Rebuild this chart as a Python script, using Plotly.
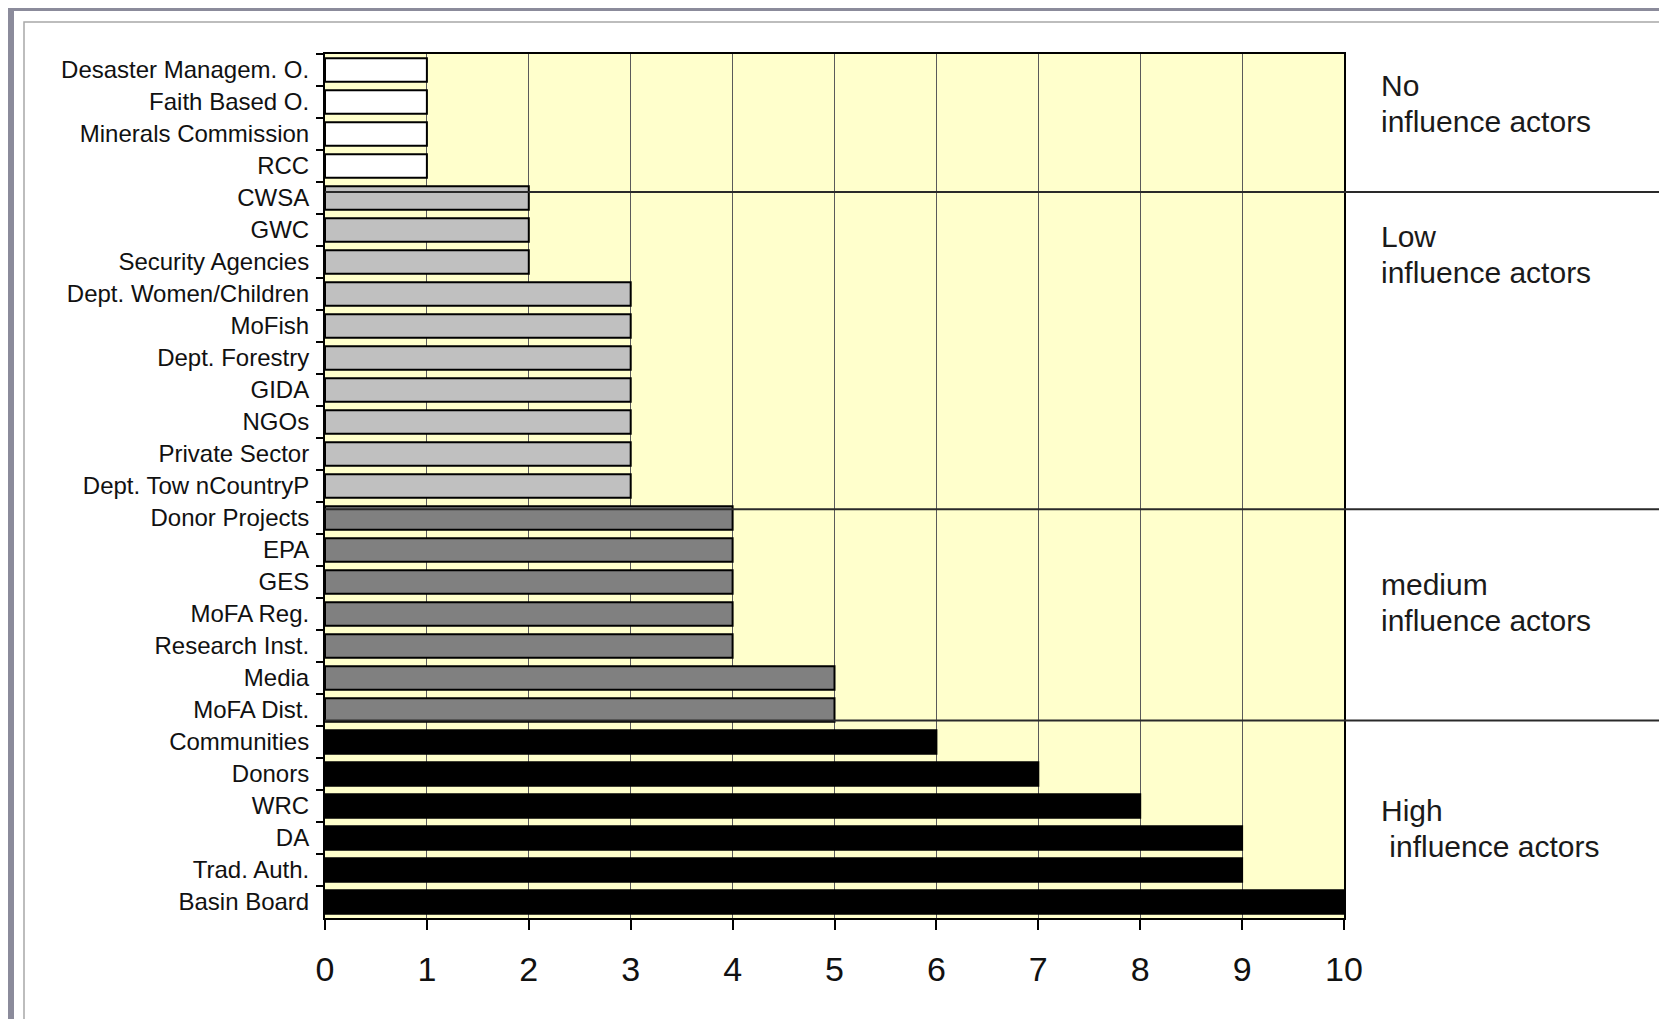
import plotly.graph_objects as go

actors = ["Desaster Managem. O.", "Faith Based O.", "Minerals Commission", "RCC",
          "CWSA", "GWC", "Security Agencies", "Dept. Women/Children", "MoFish",
          "Dept. Forestry", "GIDA", "NGOs", "Private Sector", "Dept. Tow nCountryP",
          "Donor Projects", "EPA", "GES", "MoFA Reg.", "Research Inst.", "Media",
          "MoFA Dist.", "Communities", "Donors", "WRC", "DA", "Trad. Auth.", "Basin Board"]
influence = [1, 1, 1, 1, 2, 2, 2, 3, 3, 3, 3, 3, 3, 3, 4, 4, 4, 4, 4, 5, 5, 6, 7, 8, 9, 9, 10]
groups = ["no"] * 4 + ["low"] * 10 + ["medium"] * 7 + ["high"] * 6
group_colors = {"no": "#ffffff", "low": "#c0c0c0", "medium": "#808080", "high": "#000000"}
group_titles = ["No", "Low", "medium", "High"]
group_subtitles = ["influence actors", "influence actors", "influence actors", " influence actors"]
x_ticks = list(range(0, 11))

W, H = 1667, 1019
L, R, T, B = 317, 1336, 46, 910


def px_x(p):
    return (p - L) / (R - L)


def px_y(p):
    return (B - p) / (B - T)


fig = go.Figure()
fig.add_trace(go.Bar(
    y=actors, x=influence, orientation="h",
    marker=dict(color=[group_colors[g] for g in groups],
                line=dict(color="#000000", width=2)),
    width=0.74, showlegend=False, hoverinfo="x+y",
))

shapes = []
# outer grey frame strips
shapes.append(dict(type="rect", xref="paper", yref="paper", x0=px_x(0), x1=px_x(6),
                   y0=px_y(H), y1=px_y(0), fillcolor="#8b8b9b", line_width=0, layer="below"))
shapes.append(dict(type="rect", xref="paper", yref="paper", x0=px_x(0), x1=px_x(W),
                   y0=px_y(3), y1=px_y(0), fillcolor="#8b8b9b", line_width=0, layer="below"))
# inner panel border
shapes.append(dict(type="rect", xref="paper", yref="paper", x0=px_x(16), x1=px_x(1653),
                   y0=px_y(1013), y1=px_y(14), line=dict(color="#a8a8a8", width=1.5),
                   fillcolor="rgba(0,0,0,0)", layer="below"))
# group separators (category index positions)
for yv in [3.81, 13.73, 20.33]:
    shapes.append(dict(type="line", xref="paper", yref="y", x0=0, x1=px_x(1655),
                       y0=yv, y1=yv, line=dict(color="#2a2a2a", width=2)))

annotations = []
title_pos = [0.0369, 0.2113, 0.6143, 0.8760]
sub_pos = [0.0786, 0.2531, 0.6560, 0.9177]
for t, s, ty, sy in zip(group_titles, group_subtitles, title_pos, sub_pos):
    for txt, fy in [(t, ty), (s, sy)]:
        annotations.append(dict(text=txt.replace(" ", "&nbsp;", 1) if txt.startswith(" ") else txt,
                                xref="paper", yref="paper", x=px_x(1371), y=1 - fy,
                                xanchor="left", yanchor="middle", align="left", showarrow=False,
                                font=dict(family="Liberation Sans, Arial", size=30, color="#1a1a1a")))

fig.update_layout(
    width=W, height=H,
    margin=dict(l=L, r=W - R, t=T, b=H - B),
    paper_bgcolor="#ffffff", plot_bgcolor="#ffffcc",
    shapes=shapes, annotations=annotations,
    font=dict(family="Liberation Sans, Arial", color="#111111"),
    xaxis=dict(range=[0, 10], tickvals=x_ticks, ticktext=[str(v) for v in x_ticks],
               showgrid=True, gridcolor="#5a5a5a", gridwidth=1,
               showline=True, linecolor="#000000", linewidth=2, mirror=True,
               ticks="outside", ticklen=10, tickcolor="#000000", tickwidth=1.5,
               tickfont=dict(size=34, color="#111111"), ticklabelstandoff=10,
               zeroline=False, fixedrange=True),
    yaxis=dict(type="category", autorange="reversed", tickson="boundaries",
               showgrid=False, showline=True, linecolor="#000000", linewidth=2, mirror=True,
               ticks="outside", ticklen=7, tickcolor="#000000", tickwidth=1.5,
               tickfont=dict(size=24, color="#111111"), ticklabelstandoff=9,
               fixedrange=True),
)

fig.write_html("out.html")
